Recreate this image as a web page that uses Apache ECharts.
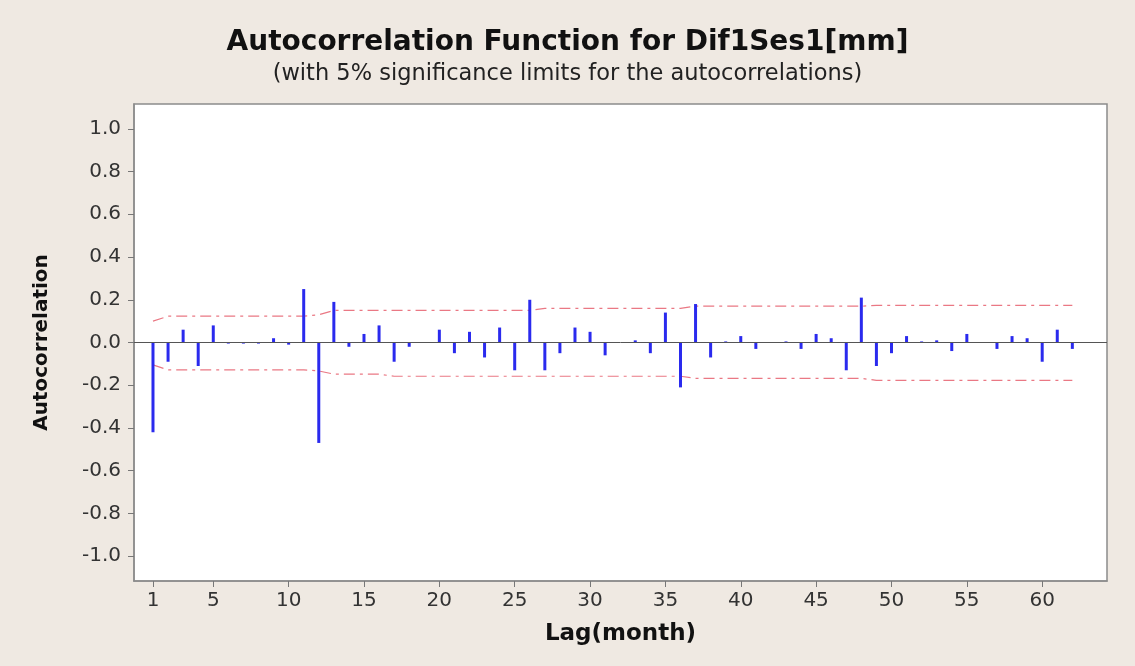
<!DOCTYPE html>
<html>
<head>
<meta charset="utf-8">
<script src="https://cdn.jsdelivr.net/npm/echarts@6.0.0/dist/echarts.min.js"></script>
<style>
  html, body { margin: 0; padding: 0; background: #efe9e2; }
  #chart { width: 1135px; height: 666px; }
</style>
</head>
<body>
<div id="chart"></div>
<script>
// Lags (months)
const lags = [1,2,3,4,5,6,7,8,9,10,11,12,13,14,15,16,17,18,19,20,21,22,23,24,25,26,27,28,29,30,31,32,33,34,35,36,37,38,39,40,41,42,43,44,45,46,47,48,49,50,51,52,53,54,55,56,57,58,59,60,61,62];

// Autocorrelation values
const acf = [-0.42,-0.09,0.06,-0.11,0.08,-0.005,-0.005,-0.005,0.02,-0.01,
             0.25,-0.47,0.19,-0.02,0.04,0.08,-0.09,-0.02,0.0,0.06,
             -0.05,0.05,-0.07,0.07,-0.13,0.20,-0.13,-0.05,0.07,0.05,
             -0.06,0.0,0.01,-0.05,0.14,-0.21,0.18,-0.07,0.005,0.03,
             -0.03,0.0,0.005,-0.03,0.04,0.02,-0.13,0.21,-0.11,-0.05,
             0.03,0.005,0.01,-0.04,0.04,0.0,-0.03,0.03,0.02,-0.09,
             0.06,-0.03];

// 5% significance limits
const upperLimit = [0.10,
  0.123,0.123,0.123,0.123,0.123,0.123,0.123,0.123,0.123,0.123,
  0.13,
  0.15,0.15,0.15,0.15,0.15,0.15,0.15,0.15,0.15,0.15,0.15,0.15,0.15,0.15,
  0.16,0.16,0.16,0.16,0.16,0.16,0.16,0.16,0.16,0.16,
  0.17,0.17,0.17,0.17,0.17,0.17,0.17,0.17,0.17,0.17,0.17,0.17,
  0.174,0.174,0.174,0.174,0.174,0.174,0.174,0.174,0.174,0.174,0.174,0.174,0.174,0.174];
const lowerLimit = [-0.105,
  -0.128,-0.128,-0.128,-0.128,-0.128,-0.128,-0.128,-0.128,-0.128,-0.128,
  -0.133,
  -0.148,-0.148,-0.148,-0.148,
  -0.158,-0.158,-0.158,-0.158,-0.158,-0.158,-0.158,-0.158,-0.158,-0.158,
  -0.158,-0.158,-0.158,-0.158,-0.158,-0.158,-0.158,-0.158,-0.158,-0.158,
  -0.168,-0.168,-0.168,-0.168,-0.168,-0.168,-0.168,-0.168,-0.168,-0.168,-0.168,-0.168,
  -0.177,-0.177,-0.177,-0.177,-0.177,-0.177,-0.177,-0.177,-0.177,-0.177,-0.177,-0.177,-0.177,-0.177];

// Tick labels
const xTicks = [1,5,10,15,20,25,30,35,40,45,50,55,60];
const yTicks = [-1.0,-0.8,-0.6,-0.4,-0.2,0.0,0.2,0.4,0.6,0.8,1.0];

const titleText = 'Autocorrelation Function for Dif1Ses1[mm]';
const subtitleText = '(with 5% significance limits for the autocorrelations)';

const chart = echarts.init(document.getElementById('chart'));
const font = 'DejaVu Sans, Verdana, sans-serif';

chart.setOption({
  backgroundColor: '#efe9e2',
  animation: false,
  title: [
    { text: titleText, left: 'center', top: 24,
      textStyle: { fontFamily: font, fontWeight: 'bold', fontSize: 28, color: '#111' } },
    { text: subtitleText, left: 'center', top: 58,
      textStyle: { fontFamily: font, fontWeight: 'normal', fontSize: 22.5, color: '#222' } }
  ],
  grid: {
    left: 134, right: 28, top: 104, bottom: 85,
    show: true, backgroundColor: '#ffffff', borderColor: '#8c8c8c', borderWidth: 1.5
  },
  xAxis: {
    type: 'value', min: -0.26, max: 64.3,
    name: 'Lag(month)', nameLocation: 'middle', nameGap: 42,
    nameTextStyle: { fontFamily: font, fontWeight: 'bold', fontSize: 23, color: '#111' },
    axisLine: { show: true, onZero: false, lineStyle: { color: '#8c8c8c', width: 1.5 } },
    axisTick: { show: true, customValues: xTicks, length: 6, lineStyle: { color: '#777' } },
    axisLabel: { customValues: xTicks, fontFamily: font, fontSize: 20, color: '#333', margin: 10 },
    splitLine: { show: false }
  },
  yAxis: {
    type: 'value', min: -1.116, max: 1.116,
    name: 'Autocorrelation', nameLocation: 'middle', nameGap: 82, nameRotate: 90,
    nameTextStyle: { fontFamily: font, fontWeight: 'bold', fontSize: 20, color: '#111' },
    axisLine: { show: true, onZero: false, lineStyle: { color: '#8c8c8c', width: 1.5 } },
    axisTick: { show: true, customValues: yTicks, length: 6, lineStyle: { color: '#777' } },
    axisLabel: { customValues: yTicks, fontFamily: font, fontSize: 20, color: '#333', margin: 13,
      formatter: v => v.toFixed(1) },
    splitLine: { show: false }
  },
  series: [
    {
      type: 'bar', name: 'ACF',
      data: lags.map((l, i) => [l, acf[i]]),
      barWidth: 3,
      itemStyle: { color: '#2a2aee' },
      markLine: {
        silent: true, symbol: ['none', 'none'], label: { show: false },
        lineStyle: { color: '#555', width: 1, type: 'solid' },
        data: [{ yAxis: 0 }]
      },
      z: 3
    },
    {
      type: 'line', name: 'Upper limit',
      data: lags.map((l, i) => [l, upperLimit[i]]),
      showSymbol: false, symbol: 'none',
      lineStyle: { color: '#ea7884', width: 1.2, type: [11, 5, 3, 5] },
      z: 2
    },
    {
      type: 'line', name: 'Lower limit',
      data: lags.map((l, i) => [l, lowerLimit[i]]),
      showSymbol: false, symbol: 'none',
      lineStyle: { color: '#ea7884', width: 1.2, type: [11, 5, 3, 5] },
      z: 2
    }
  ]
});
</script>
</body>
</html>
